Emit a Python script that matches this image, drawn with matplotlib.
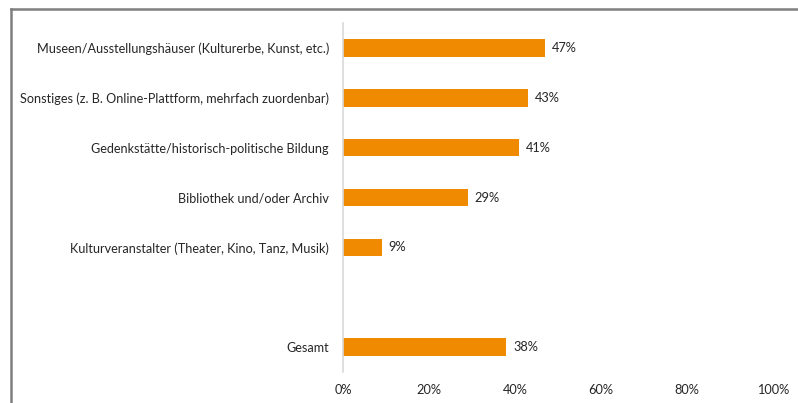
import matplotlib.pyplot as plt
from matplotlib.lines import Line2D

# Kategorien von oben nach unten, leerer Eintrag als Abstand vor "Gesamt"
categories = [
    'Museen/Ausstellungshäuser (Kulturerbe, Kunst, etc.)',
    'Sonstiges (z. B. Online-Plattform, mehrfach zuordenbar)',
    'Gedenkstätte/historisch-politische Bildung',
    'Bibliothek und/oder Archiv',
    'Kulturveranstalter (Theater, Kino, Tanz, Musik)',
    '',
    'Gesamt',
]
values = [47, 43, 41, 29, 9, None, 38]
x_ticks = [0, 20, 40, 60, 80, 100]

bar_color = '#F08A00'
text_color = '#262626'

plt.rcParams['font.family'] = ['Lato', 'DejaVu Sans']

W, H = 798, 403
fig = plt.figure(figsize=(W / 100, H / 100), dpi=100)
ax = fig.add_axes([343 / W, 1 - 372 / H, (773 - 343) / W, (372 - 23) / H])

ypos = list(range(len(categories)))
for y, v in zip(ypos, values):
    if v is None:
        continue
    ax.barh(y, v, height=0.35, color=bar_color)
    ax.text(v + 1.6, y, f'{v}%', va='center', ha='left', fontsize=9.2, color=text_color)

ax.set_ylim(len(categories) - 0.5, -0.5)
ax.set_xlim(0, 100)
ax.set_yticks(ypos)
ax.set_yticklabels(categories, fontsize=9.05, color=text_color)
ax.set_xticks(x_ticks)
ax.set_xticklabels([f'{t}%' for t in x_ticks], fontsize=9.2, color=text_color)
ax.tick_params(axis='both', length=0)
ax.tick_params(axis='y', pad=10)
ax.tick_params(axis='x', pad=9)

for side in ['top', 'right', 'bottom']:
    ax.spines[side].set_visible(False)
ax.spines['left'].set_color('#D9D9D9')
ax.spines['left'].set_linewidth(1.2)

# Rahmen um das Diagramm (oben und links sichtbar)
fig.add_artist(Line2D([10.5 / W, 1], [1 - 9 / H, 1 - 9 / H], color='#7F7F7F', lw=1.8))
fig.add_artist(Line2D([10.5 / W, 10.5 / W], [0, 1 - 9 / H], color='#7F7F7F', lw=1.8))

fig.savefig('out.png', dpi=100)
